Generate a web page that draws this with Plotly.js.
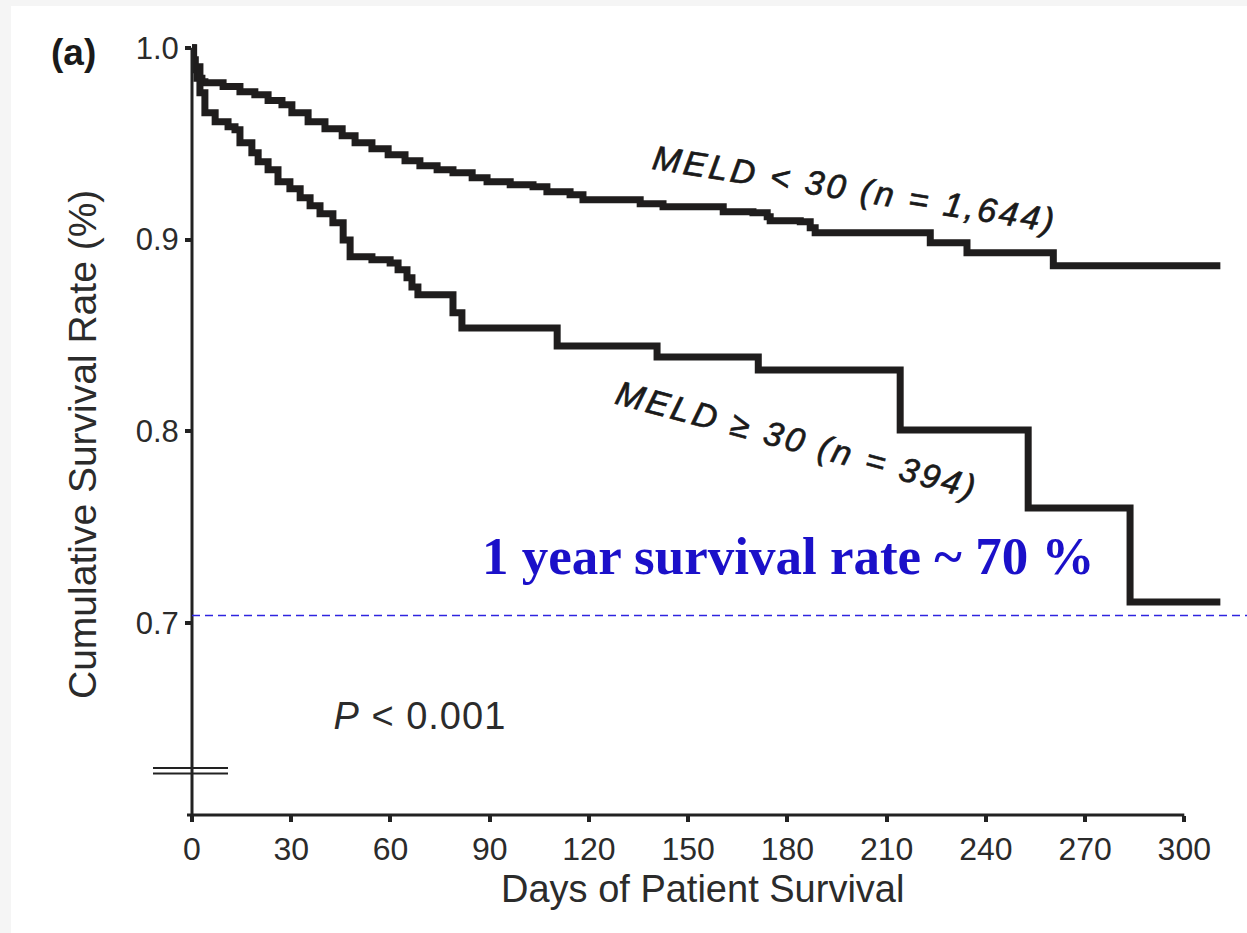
<!DOCTYPE html>
<html>
<head>
<meta charset="utf-8">
<script src="https://cdn.plot.ly/plotly-3.0.1.min.js"></script>
<style>
  html, body { margin: 0; padding: 0; background: #f5f5f5; }
  #chart { position: absolute; left: 11px; top: 6px; width: 1236px; height: 927px; background: #ffffff; }
  #chart g.annotation[data-index="3"] text,
  #chart g.annotation[data-index="4"] text { letter-spacing: 3px; stroke: #1a1a1a; stroke-width: 0.7px; }
  #chart g.annotation[data-index="5"] text { letter-spacing: 1px; }
</style>
</head>
<body>
<div id="chart"></div>
<script>
// ---- Data ----
const upperName = "MELD < 30 (n = 1,644)";
const upperDays = [0, 0.5, 1, 1.5, 3, 3.9, 9.4, 14.5, 19, 23, 27.2, 30.2, 35.1, 40.2, 45.4, 49.3, 54.4, 59.3, 64.4, 68.9, 74.1, 78.9, 84.7, 89.2, 96.2, 103.1, 107.3, 114.3, 118.2, 135.5, 142.4, 160.6, 169.6, 173.9, 174.8, 183.9, 186.9, 188.4, 223.2, 234.3, 260.4, 310.9];
const upperSurv = [1.0, 0.9937, 0.9885, 0.984, 0.9823, 0.9817, 0.9797, 0.977, 0.9755, 0.9724, 0.9703, 0.9661, 0.9614, 0.9577, 0.9541, 0.9504, 0.9473, 0.9442, 0.9411, 0.9384, 0.9364, 0.9348, 0.9322, 0.9301, 0.9285, 0.9275, 0.9249, 0.9233, 0.9207, 0.9186, 0.9171, 0.9145, 0.9139, 0.9118, 0.9098, 0.9092, 0.9061, 0.9035, 0.8983, 0.8931, 0.8863, 0.8863];

const lowerName = "MELD \u2265 30 (n = 394)";
const lowerDays = [0, 0.3, 2.4, 3.9, 7.0, 10.9, 13.0, 14.5, 18.1, 20.0, 23.0, 26.0, 29.6, 32.7, 35.7, 38.7, 42.6, 45.7, 47.8, 54.4, 59.9, 62.3, 65.0, 66.5, 68.3, 78.9, 81.6, 110.4, 140.6, 171.2, 214.1, 252.8, 283.6, 310.9];
const lowerSurv = [1.0, 0.990, 0.9765, 0.9661, 0.9614, 0.9588, 0.9572, 0.9504, 0.9452, 0.9405, 0.9364, 0.9301, 0.9264, 0.9218, 0.9176, 0.9134, 0.9087, 0.8998, 0.8910, 0.8894, 0.8878, 0.8842, 0.8800, 0.8753, 0.8712, 0.8618, 0.8539, 0.8445, 0.8388, 0.8320, 0.8007, 0.7600, 0.7110, 0.7110];

const xTickVals = [0, 30, 60, 90, 120, 150, 180, 210, 240, 270, 300];
const yTickVals = [0.7, 0.8, 0.9, 1.0];
const yTickText = ["0.7", "0.8", "0.9", "1.0"];
const oneYearRate = 0.704;

// ---- Layout geometry ----
const X_MAX = 312, Y_MIN = 0.6, Y_MAX = 1.004;
const PL = 192, PR = 1224, PT = 40, PB = 815;   // page pixel box of the plot area
const px = v => (v - PL) / (PR - PL);           // page px -> paper x
const py = v => (PB - v) / (PB - PT);           // page px -> paper y
const yp = val => (val - Y_MIN) / (Y_MAX - Y_MIN);

const FONT = "Liberation Sans, Arial, Helvetica, sans-serif";
const curveColor = "#1f1d1d";

const traces = [
  { x: upperDays, y: upperSurv, name: upperName, type: "scatter", mode: "lines",
    line: { shape: "hv", width: 7, color: curveColor }, hoverinfo: "x+y+name" },
  { x: lowerDays, y: lowerSurv, name: lowerName, type: "scatter", mode: "lines",
    line: { shape: "hv", width: 7, color: curveColor }, hoverinfo: "x+y+name" }
];

const layout = {
  width: 1236, height: 927,
  margin: { l: PL - 11, r: 1247 - PR, t: PT - 6, b: 933 - PB },
  paper_bgcolor: "#ffffff", plot_bgcolor: "#ffffff",
  showlegend: false,
  font: { family: FONT, color: "#2b2b2b" },
  xaxis: {
    range: [0, X_MAX], showgrid: false, zeroline: false, showline: false,
    tickmode: "array", tickvals: xTickVals, ticks: "outside", ticklen: 6, tickwidth: 4,
    tickcolor: "#222", tickfont: { size: 32, color: "#2b2b2b", family: FONT }
  },
  yaxis: {
    range: [Y_MIN, Y_MAX], showgrid: false, zeroline: false, showline: false,
    tickmode: "array", tickvals: yTickVals, ticktext: yTickText, ticks: "outside", ticklen: 6, tickwidth: 4,
    tickcolor: "#222", tickfont: { size: 31, color: "#2b2b2b", family: FONT }
  },
  shapes: [
    // y axis line
    { type: "line", xref: "paper", yref: "paper", x0: 0, x1: 0, y0: 0, y1: yp(1.0),
      line: { color: "#222", width: 3 } },
    // x axis line (stops at day 300)
    { type: "line", xref: "paper", yref: "paper", x0: px(187), x1: 300 / X_MAX, y0: 0, y1: 0,
      line: { color: "#222", width: 3 } },
    // axis break marks
    { type: "line", xref: "paper", yref: "paper", x0: px(153), x1: px(228), y0: py(768), y1: py(768),
      line: { color: "#222", width: 2 } },
    { type: "line", xref: "paper", yref: "paper", x0: px(153), x1: px(228), y0: py(773.5), y1: py(773.5),
      line: { color: "#222", width: 2 } },
    // 1-year survival reference line
    { type: "line", xref: "paper", yref: "paper", x0: 0, x1: px(1247), y0: yp(oneYearRate), y1: yp(oneYearRate),
      line: { color: "#2f24e0", width: 1.3, dash: "8px,5px" } }
  ],
  annotations: [
    { text: "(a)", xref: "paper", yref: "paper", x: px(73), y: py(53), showarrow: false,
      xanchor: "center", yanchor: "middle", font: { size: 37, family: FONT, color: "#1a1a1a", weight: "bold" } },
    { text: "Cumulative Survival Rate (%)", xref: "paper", yref: "paper", x: px(82), y: py(445),
      showarrow: false, textangle: -90, xanchor: "center", yanchor: "middle",
      font: { size: 39, family: FONT, color: "#2b2b2b" } },
    { text: "Days of Patient Survival", xref: "paper", yref: "paper", x: px(702), y: py(889),
      showarrow: false, xanchor: "center", yanchor: "middle",
      font: { size: 38, family: FONT, color: "#2b2b2b" } },
    { text: "<i>MELD &lt; 30 (n = 1,644)</i>", xref: "paper", yref: "paper", x: px(855), y: py(189),
      showarrow: false, textangle: 9, xanchor: "center", yanchor: "middle",
      font: { size: 34, family: FONT, color: "#1a1a1a" } },
    { text: "<i>MELD \u2265 30 (n = 394)</i>", xref: "paper", yref: "paper", x: px(797), y: py(440),
      showarrow: false, textangle: 15, xanchor: "center", yanchor: "middle",
      font: { size: 34, family: FONT, color: "#1a1a1a" } },
    { text: "<i>P</i> &lt; 0.001", xref: "paper", yref: "paper", x: px(420), y: py(716),
      showarrow: false, xanchor: "center", yanchor: "middle",
      font: { size: 38, family: FONT, color: "#2b2b2b" } },
    { text: "<b>1 year survival rate ~ 70 %</b>", xref: "paper", yref: "paper", x: px(788), y: py(556),
      showarrow: false, xanchor: "center", yanchor: "middle",
      font: { size: 53, family: "Liberation Serif, Times New Roman, serif", color: "#1b10c9" } }
  ]
};

Plotly.newPlot("chart", traces, layout, { displayModeBar: false });
</script>
</body>
</html>
